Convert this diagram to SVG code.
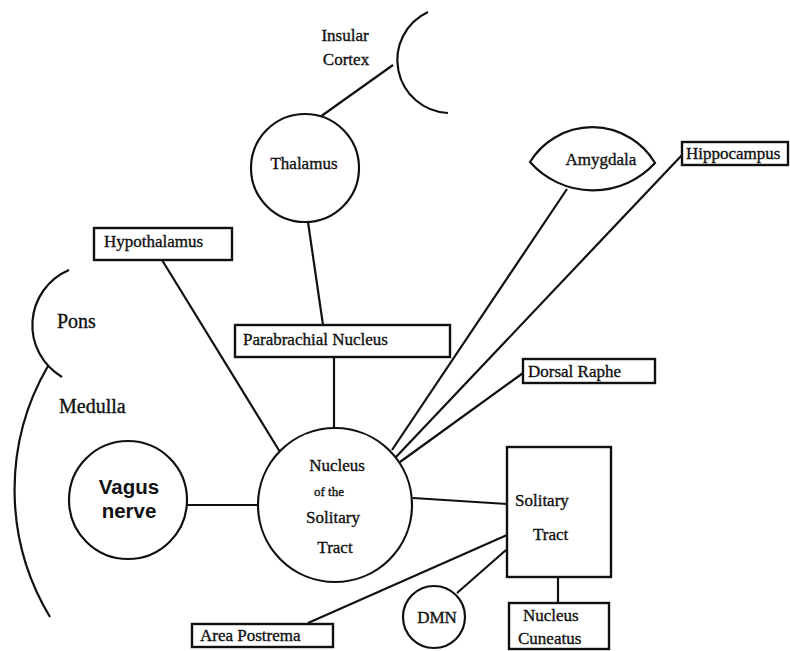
<svg xmlns="http://www.w3.org/2000/svg" width="790" height="651" viewBox="0 0 790 651">
<defs>
<style>
.s{fill:none;stroke:#111;stroke-width:2.2}
.b{fill:#fff;stroke:#111;stroke-width:2.4}
.c{fill:#fff;stroke:#111;stroke-width:2.2}
.t{font-family:"Liberation Serif","Times New Roman",serif;font-size:17px;fill:#111;stroke:#111;stroke-width:0.35}
.m{text-anchor:middle}
.v{font-family:"Liberation Sans",Arial,sans-serif;font-size:20.5px;font-weight:bold;fill:#111;text-anchor:middle}
</style>
</defs>
<rect width="790" height="651" fill="#fff"/>
<g id="connectors">
<line class="s" x1="393" y1="65" x2="320" y2="117"/>
<line class="s" x1="308" y1="222" x2="323" y2="325"/>
<line class="s" x1="162" y1="260" x2="280" y2="452"/>
<line class="s" x1="334" y1="357" x2="334" y2="428"/>
<line class="s" x1="567" y1="189" x2="392" y2="450"/>
<line class="s" x1="682" y1="155" x2="396" y2="457"/>
<line class="s" x1="523" y1="373" x2="400" y2="462"/>
<line class="s" x1="187" y1="505" x2="258" y2="505"/>
<line class="s" x1="413" y1="498" x2="507" y2="504"/>
<line class="s" x1="308" y1="623" x2="507" y2="535"/>
<line class="s" x1="457" y1="593" x2="506" y2="550"/>
<line class="s" x1="558" y1="577" x2="558" y2="603"/>
</g>
<g id="insular-cortex">
<path class="s" d="M428,12 A53,53 0 0 0 448,113"/>
<text class="t m" x="345" y="41">Insular</text>
<text class="t m" x="346" y="65">Cortex</text>
</g>
<g id="thalamus">
<circle class="c" cx="305" cy="168" r="54"/>
<text class="t m" x="304" y="169">Thalamus</text>
</g>
<g id="amygdala">
<path class="c" d="M530,162 A73,73 0 0 1 655,163 A84,84 0 0 1 530,162 Z"/>
<text class="t m" x="601" y="165">Amygdala</text>
</g>
<g id="hippocampus">
<rect class="b" x="682" y="142" width="106" height="23"/>
<text class="t" x="686" y="159">Hippocampus</text>
</g>
<g id="hypothalamus">
<rect class="b" x="94" y="228" width="138" height="32"/>
<text class="t" x="104" y="247">Hypothalamus</text>
</g>
<g id="pons">
<path class="s" d="M69,270 A60,60 0 0 0 62,377"/>
<text class="t" x="57" y="328" style="font-size:20px">Pons</text>
</g>
<g id="medulla">
<path class="s" d="M48,366 A246,246 0 0 0 50,617"/>
<text class="t" x="59" y="413" style="font-size:20px">Medulla</text>
</g>
<g id="parabrachial-nucleus">
<rect class="b" x="235" y="325" width="215" height="32"/>
<text class="t" x="243" y="345">Parabrachial Nucleus</text>
</g>
<g id="dorsal-raphe">
<rect class="b" x="523" y="359" width="132" height="24"/>
<text class="t" x="528" y="377">Dorsal Raphe</text>
</g>
<g id="nucleus-solitary-tract">
<circle class="c" cx="335" cy="505" r="77"/>
<text class="t m" x="337" y="471">Nucleus</text>
<text class="t m" x="329" y="496" style="font-size:13px">of the</text>
<text class="t m" x="333" y="523">Solitary</text>
<text class="t m" x="335" y="553">Tract</text>
</g>
<g id="vagus-nerve">
<circle class="c" cx="128" cy="500" r="59"/>
<text class="v" x="129" y="494">Vagus</text>
<text class="v" x="129" y="518">nerve</text>
</g>
<g id="solitary-tract">
<rect class="b" x="507" y="447" width="104" height="130"/>
<text class="t" x="515" y="506">Solitary</text>
<text class="t" x="533" y="540">Tract</text>
</g>
<g id="dmn">
<circle class="c" cx="434" cy="617" r="31"/>
<text class="t m" x="437" y="623">DMN</text>
</g>
<g id="nucleus-cuneatus">
<rect class="b" x="509" y="603" width="100" height="46"/>
<text class="t" x="523" y="621">Nucleus</text>
<text class="t" x="518" y="644">Cuneatus</text>
</g>
<g id="area-postrema">
<rect class="b" x="192" y="624" width="141" height="23"/>
<text class="t" x="200" y="641">Area Postrema</text>
</g>
</svg>
